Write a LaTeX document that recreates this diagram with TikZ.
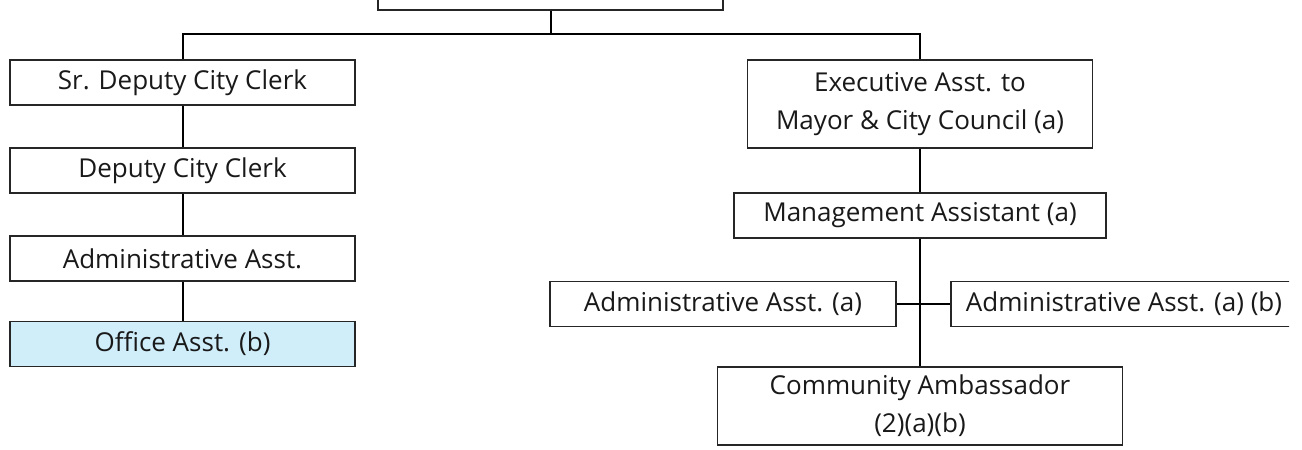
\documentclass[tikz,border=0pt]{standalone}
\usepackage{fontspec}
\setmainfont{Open Sans}
\definecolor{officeblue}{HTML}{D0EEFA}
\begin{document}
\begin{tikzpicture}[x=1pt,y=-1pt,
    box/.style={draw=black!85, line width=1.3pt, fill=white, minimum width=345pt,
        minimum height=45pt, inner sep=2pt, align=center, text=black!90,
        font=\fontsize{26}{38}\selectfont},
    link/.style={line width=2pt}]
    \useasboundingbox (0,0) rectangle (1302,450);
    \clip (0,0) rectangle (1289,450);
    %% top
    \node[box, minimum height=60pt] (clerk) at (550.5,-20) {};
    %% left column
    \node[box] (srdeputy) at (182.5,82.5) {Sr. Deputy City Clerk};
    \node[box] (deputy) at (182.5,170.5) {Deputy City Clerk};
    \node[box] (admin) at (182.5,258.5) {Administrative Asst.};
    \node[box, fill=officeblue] (office) at (182.5,344) {Office Asst. (b)};
    %% right column
    \node[box, minimum height=88pt] (exec) at (920,104) {Executive Asst. to\\Mayor \& City Council (a)};
    \node[box, minimum width=372pt] (mgmt) at (920,215.5) {Management Assistant (a)};
    \node[box, minimum width=346pt] (adminA) at (723,304) {Administrative Asst. (a)};
    \node[box, minimum width=346pt] (adminAB) at (1124,304) {Administrative Asst. (a) (b)};
    \node[box, minimum width=405pt, minimum height=78pt] (ambassador) at (920,406) {Community Ambassador\\(2)(a)(b)};
    %% connectors
    \draw[link] (srdeputy.north) -- ++(0,-25) coordinate (bus) -| (exec.north);
    \draw[link] (clerk.south) -- (clerk.south |- bus);
    \draw[link] (srdeputy) -- (deputy);
    \draw[link] (deputy) -- (admin);
    \draw[link] (admin) -- (office);
    \draw[link] (exec) -- (mgmt);
    \draw[link] (mgmt) -- (ambassador);
    \draw[link] (adminA) -- (adminAB);
\end{tikzpicture}
\end{document}
